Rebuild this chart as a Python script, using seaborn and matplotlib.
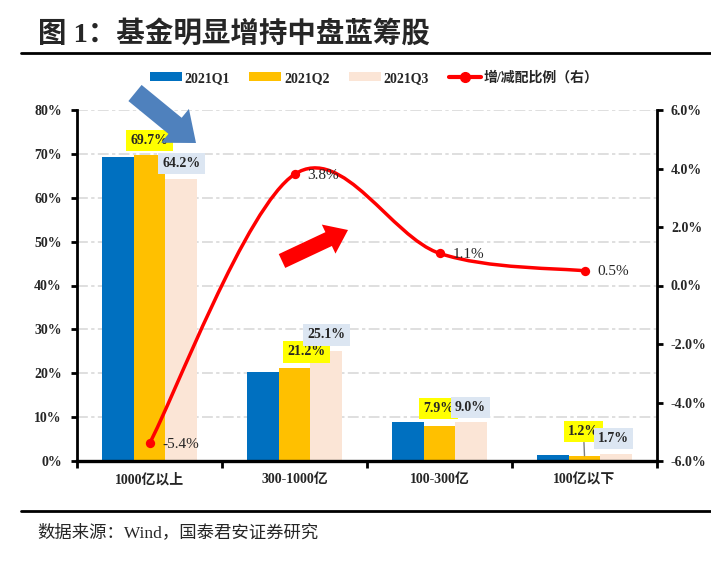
import numpy as np
import pandas as pd
import seaborn as sns
import matplotlib.pyplot as plt
from matplotlib.patches import Patch, PathPatch
from matplotlib.lines import Line2D
from matplotlib.path import Path

# ---- data ----
categories = ["1000亿以上", "300-1000亿", "100-300亿", "100亿以下"]
quarters = ["2021Q1", "2021Q2", "2021Q3"]
q1_share = [69.3, 20.3, 8.9, 1.4]
q2_share = [69.7, 21.2, 7.9, 1.2]
q3_share = [64.2, 25.1, 9.0, 1.7]
change_ratio = [-5.4, 3.8, 1.1, 0.5]
left_ticks = [0, 10, 20, 30, 40, 50, 60, 70, 80]
right_ticks = [-6, -4, -2, 0, 2, 4, 6]
line_label = "增/减配比例（右）"

bar_colors = ["#0070C0", "#FFC000", "#FBE5D6"]

sns.set_theme(style="white", rc={"axes.facecolor": "white", "figure.facecolor": "white"})
plt.rcParams["font.family"] = ["Liberation Serif", "Noto Sans CJK SC"]


def smooth_path(x, y):
    # excel-like smoothed line: cubic bezier through the points
    pts = np.column_stack([x, y]).astype(float)
    padded = np.vstack([pts[0], pts, pts[-1]])
    verts = [pts[0]]
    codes = [Path.MOVETO]
    for i in range(len(pts) - 1):
        p0, p1, p2, p3 = padded[i], padded[i + 1], padded[i + 2], padded[i + 3]
        verts += [p1 + (p2 - p0) / 6, p2 - (p3 - p1) / 6, p2]
        codes += [Path.CURVE4] * 3
    return Path(verts, codes)


df = pd.DataFrame({
    "cat": categories * 3,
    "q": np.repeat(quarters, len(categories)),
    "val": q1_share + q2_share + q3_share,
})

fig = plt.figure(figsize=(7.11, 5.81), dpi=100)
ax = fig.add_axes([77 / 711, 1 - 461 / 581, 580 / 711, 351 / 581])

sns.barplot(data=df, x="cat", y="val", hue="q", palette=bar_colors, width=0.66, gap=0,
            saturation=1, legend=False, ax=ax, edgecolor="none", linewidth=0)

ax.set_ylim(0, 80)
ax.set_yticks(left_ticks)
ax.set_yticklabels([f"{v}%" for v in left_ticks], fontsize=10, fontweight="bold")
ax.set_xlabel("")
ax.set_ylabel("")
ax.yaxis.grid(True, color="#D9D9D9", lw=1.2, linestyle=(0, (6.5, 2, 2, 2)))
ax.xaxis.grid(False)
ax.set_axisbelow(True)

# bar labels (Q2 yellow boxes, Q3 light blue boxes)
q2_dx = [0, 12, -1, -1]
q2_dy = [15, 16, 18, 24]
q3_dx = [0, 0, -1, -3]
q3_dy = [16, 16, 14, 15]
for bar, v, dx, dy in zip(ax.containers[1], q2_share, q2_dx, q2_dy):
    extra = {}
    if dy > 20:
        extra["arrowprops"] = dict(arrowstyle="-", color="#7F7F7F", lw=1, shrinkA=0, shrinkB=0)
    ax.annotate(f"{v:.1f}%", xy=(bar.get_x() + bar.get_width() / 2, bar.get_height()),
                xytext=(dx, dy), textcoords="offset pixels", ha="center", va="center",
                fontsize=10, fontweight="bold", zorder=5,
                bbox=dict(boxstyle="square,pad=0.3", fc="#FFFF00", ec="none"), **extra)
for bar, v, dx, dy in zip(ax.containers[2], q3_share, q3_dx, q3_dy):
    ax.annotate(f"{v:.1f}%", xy=(bar.get_x() + bar.get_width() / 2, bar.get_height()),
                xytext=(dx, dy), textcoords="offset pixels", ha="center", va="center",
                fontsize=10, fontweight="bold", zorder=5,
                bbox=dict(boxstyle="square,pad=0.3", fc="#DCE6F2", ec="none"))

# right axis line
ax2 = ax.twinx()
xs = np.arange(len(categories))
ax2.add_patch(PathPatch(smooth_path(xs, change_ratio), fc="none", ec="#FF0000", lw=2.5,
                        capstyle="round", zorder=3))
sns.scatterplot(x=xs, y=change_ratio, ax=ax2, color="#FF0000", s=45, edgecolor="#FF0000",
                linewidth=0, zorder=4, legend=False)
for x, v in zip(xs, change_ratio):
    ax2.annotate(f"{v:.1f}%", xy=(x, v), xytext=(13, -1), textcoords="offset pixels",
                 ha="left", va="center", fontsize=11)
ax2.set_ylim(-6, 6)
ax2.set_yticks(right_ticks)
ax2.set_yticklabels([f"{v:.1f}%" for v in right_ticks], fontsize=10, fontweight="bold")
ax2.set_xlabel("")
ax2.set_ylabel("")
ax2.grid(False)
ax.set_xlim(-0.5, len(categories) - 0.5)

# axis cosmetics
ax.set_xticks(xs)
ax.set_xticklabels(categories, fontsize=10, fontweight="bold")
ax.set_xticks(np.arange(-0.5, len(categories), 1), minor=True)
ax.tick_params(axis="x", which="major", length=0, pad=9)
ax.tick_params(axis="x", which="minor", length=5, width=2, bottom=True, color="black")
ax.tick_params(axis="y", which="major", direction="out", length=4, width=2, left=True,
               color="black", pad=7)
ax2.tick_params(axis="y", which="major", direction="out", length=4, width=2, right=True,
                color="black", pad=6)
for a in (ax, ax2):
    a.spines["top"].set_visible(False)
ax.spines["right"].set_visible(False)
ax2.spines["left"].set_visible(False)
ax2.spines["bottom"].set_visible(False)
ax.spines["left"].set_color("black")
ax.spines["left"].set_linewidth(2)
ax.spines["bottom"].set_color("black")
ax.spines["bottom"].set_linewidth(2.4)
ax2.spines["right"].set_color("black")
ax2.spines["right"].set_linewidth(2)

# decorative arrows
ax2.annotate("", xy=(196, 438), xycoords="figure pixels", xytext=(135, 488),
             textcoords="figure pixels", zorder=6,
             arrowprops=dict(arrowstyle="simple,head_length=1.3,head_width=2.1,tail_width=1",
                             mutation_scale=15, fc="#4F81BD", ec="none", shrinkA=0, shrinkB=0))
ax2.annotate("", xy=(348, 351), xycoords="figure pixels", xytext=(282, 320),
             textcoords="figure pixels", zorder=6,
             arrowprops=dict(arrowstyle="simple,head_length=1.4,head_width=2.1,tail_width=1",
                             mutation_scale=11, fc="#FF0000", ec="none", shrinkA=0, shrinkB=0))

# legend
handles = [Patch(facecolor=c, edgecolor="none") for c in bar_colors]
handles.append(Line2D([0], [0], color="#FF0000", lw=3, marker="o", markersize=7))
fig.legend(handles, quarters + [line_label], loc="center", bbox_to_anchor=(374 / 711, 1 - 78 / 581),
           ncol=4, frameon=False, handlelength=2.3, handleheight=0.6, handletextpad=0.2,
           columnspacing=1.4, prop=dict(weight="bold", size=10))

# title, rules and source
fig.text(38 / 711, 1 - 34 / 581, "图 1：基金明显增持中盘蓝筹股", fontsize=20.5, fontweight="bold",
         ha="left", va="center")
fig.add_artist(Line2D([21 / 711, 1], [1 - 53 / 581] * 2, transform=fig.transFigure, color="black", lw=2))
fig.add_artist(Line2D([21 / 711, 1], [1 - 511 / 581] * 2, transform=fig.transFigure, color="black", lw=2))
fig.text(37 / 711, 1 - 533 / 581, "数据来源：Wind，国泰君安证券研究", fontsize=12.5, ha="left", va="center")

fig.savefig("out.png", dpi=100)
